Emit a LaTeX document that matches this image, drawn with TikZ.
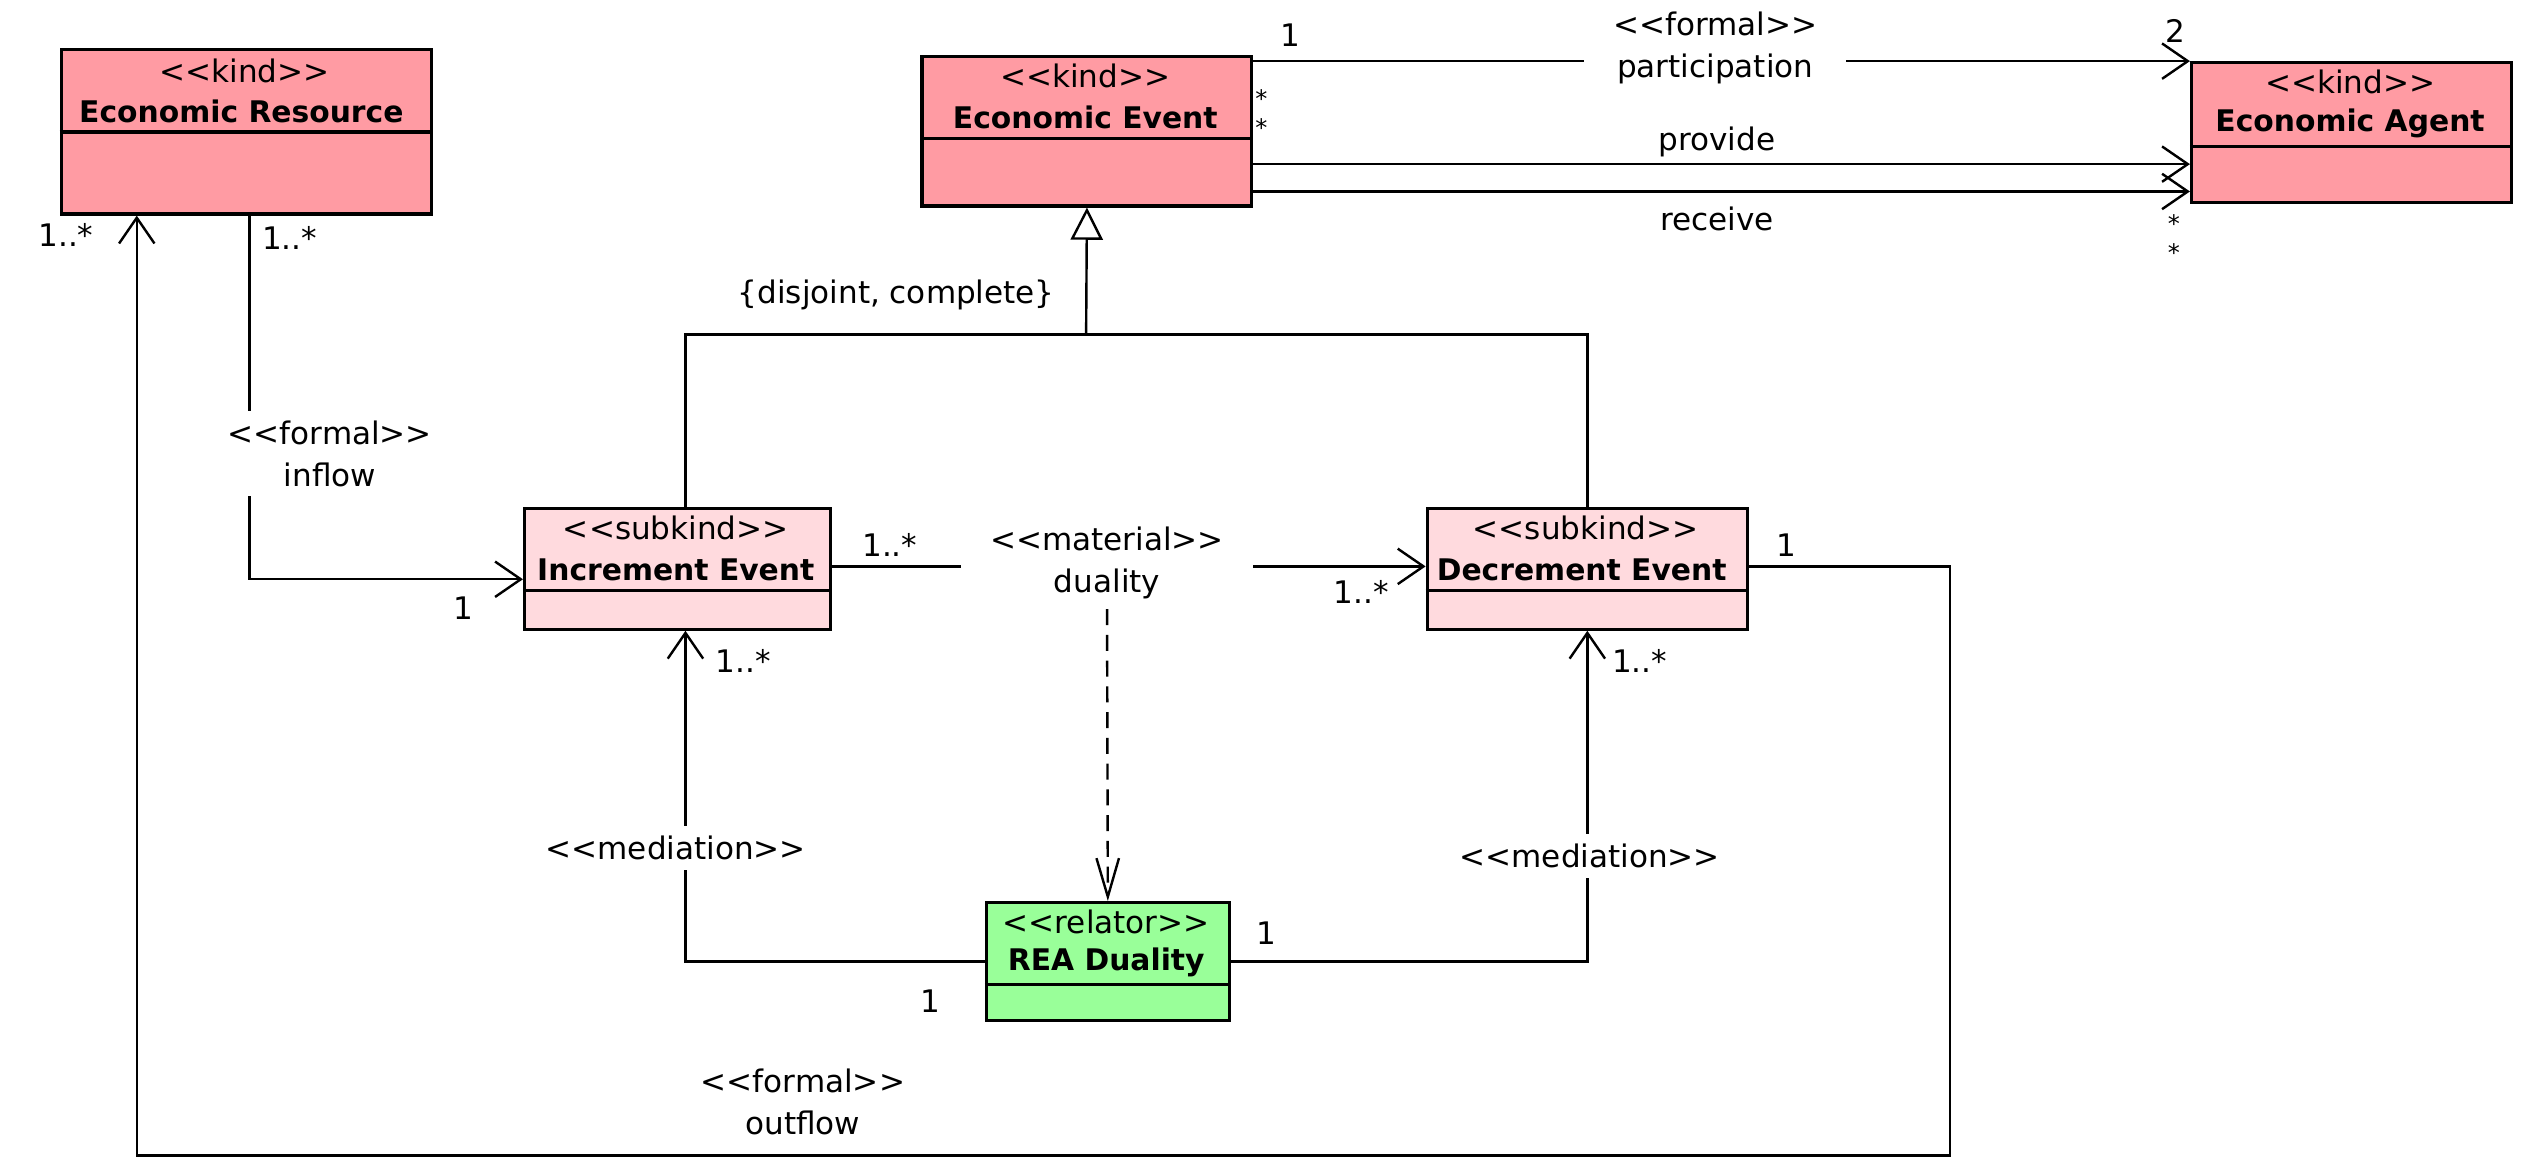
\documentclass[tikz,border=0pt]{standalone}
\usepackage{fontspec}
\setmainfont{DejaVu Sans}
\usetikzlibrary{arrows.meta,calc}
\definecolor{kindc}{RGB}{255,155,163}
\definecolor{subkc}{RGB}{255,218,222}
\definecolor{relc}{RGB}{153,255,153}
\newcommand\stx[1]{<{}<#1>{}>}
\begin{document}
\begin{tikzpicture}[x=1pt,y=-1pt,
 every node/.style={font=\fontsize{19.3}{26}\selectfont, inner sep=0pt},
 cls/.style={draw, line width=2pt, anchor=north west, inner sep=0pt},
 kindcls/.style={cls, fill=kindc},
 subcls/.style={cls, fill=subkc},
 relcls/.style={cls, fill=relc},
 sepl/.style={line width=2pt},
 ttl/.style={font=\fontsize{18.5}{22}\selectfont\bfseries},
 conn/.style={line width=1.5pt},
 oarr/.style={conn, -{Straight Barb[length=16pt,width=22pt,line width=1.5pt]}},
 gen/.style={conn, -{Triangle[open, length=20pt, width=20pt, fill=white, line width=1.5pt]}},
 dep/.style={conn, dash pattern=on 10pt off 6pt, -{Straight Barb[length=24pt,width=14pt,line width=1.5pt]}},
 lab/.style={fill=white, inner xsep=18pt, inner ysep=6pt, align=center},
 star/.style={font=\fontsize{15}{15}\selectfont}
]
\useasboundingbox (0,0) rectangle (1568,727);

% classes
\node[kindcls, minimum width=230pt, minimum height=102pt] (res) at (37,30) {};
\draw[sepl] (37,82) -- (267,82);
\node (resst) at (152,44) {\stx{kind}};
\node[ttl] (resnm) at (150,69) {Economic Resource};

\node[kindcls, minimum width=205pt, minimum height=93pt] (ev) at (572,34) {};
\draw[sepl] (572,86) -- (777,86);
\node (evst) at (674.5,47) {\stx{kind}};
\node[ttl] (evnm) at (674.5,73) {Economic Event};

\node[kindcls, minimum width=199pt, minimum height=87pt] (ag) at (1361,38) {};
\draw[sepl] (1361,91) -- (1560,91);
\node (agst) at (1460.5,51) {\stx{kind}};
\node[ttl] (agnm) at (1460.5,77) {Economic Agent};

\node[subcls, minimum width=190pt, minimum height=75pt] (inc) at (325,315) {};
\draw[sepl] (325,367) -- (515,367);
\node (incst) at (420,328) {\stx{subkind}};
\node[ttl] (incnm) at (420,354) {Increment Event};

\node[subcls, minimum width=199pt, minimum height=75pt] (dec) at (886,315) {};
\draw[sepl] (886,367) -- (1085,367);
\node (decst) at (985.5,328) {\stx{subkind}};
\node[ttl] (decnm) at (983,354) {Decrement Event};

\node[relcls, minimum width=151pt, minimum height=73pt] (rea) at (612,560) {};
\draw[sepl] (612,612) -- (763,612);
\node (reast) at (687.5,573) {\stx{relator}};
\node[ttl] (reanm) at (687.5,598) {REA Duality};

% participation / provide / receive
\draw[oarr] (ev.east |- 0,38) -- (ag.west |- 0,38);
\node[lab] (partlab) at (1066,30) {\stx{formal}\\participation};
\draw[oarr] (ev.east |- 0,102) -- (ag.west |- 0,102);
\node (provlab) at (1067,88) {provide};
\draw[oarr] (ev.east |- 0,119) -- (ag.west |- 0,119);
\node (reclab) at (1067,136) {receive};
\node (m1) at (802,22) {1};
\node (m2) at (1352,19) {2};
\node[star] (m3) at (784,61) {*};
\node[star] (m4) at (784,79) {*};
\node[star] (m5) at (1351,139) {*};
\node[star] (m6) at (1351,157) {*};

% generalization
\coordinate (gj) at (675,208);
\draw[conn] (inc.north -| 426,0) |- (gj) -| (dec.north);
\draw[gen] (gj) -- (ev.south);
\node (gslab) at (557,183) {\{disjoint, complete\}};

% inflow
\draw[oarr] (res.south -| 155,0) |- (inc.west |- 0,360);
\node[lab] (inlab) at (205,282) {\stx{formal}\\inflow};
\node (m7) at (180,148) {1..*};
\node (m8) at (288,378) {1};

% outflow
\coordinate (oc1) at (1212,718);
\draw[oarr] (dec.east |- 0,352) -| (oc1) -| (res.south -| 85,0);
\node[lab] (outlab) at (499,685) {\stx{formal}\\outflow};
\node (m9) at (1110,339) {1};
\node (m10) at (41,146) {1..*};

% duality
\draw[oarr] (inc.east |- 0,352) -- (dec.west |- 0,352);
\node[lab] (dualab) at (688,350) {\stx{material}\\duality};
\draw[dep] (dualab.south) -- (rea.north);
\node (m11) at (553,339) {1..*};
\node (m12) at (846,368) {1..*};

% mediations
\draw[oarr] (rea.west) -| (inc.south -| 426,0);
\node[lab] (medl) at (420,527) {\stx{mediation}};
\draw[oarr] (rea.east) -| (dec.south);
\node[lab] (medr) at (988,532) {\stx{mediation}};
\node (m13) at (462,411) {1..*};
\node (m14) at (578,622) {1};
\node (m15) at (787,580) {1};
\node (m16) at (1019,411) {1..*};
\end{tikzpicture}
\end{document}
